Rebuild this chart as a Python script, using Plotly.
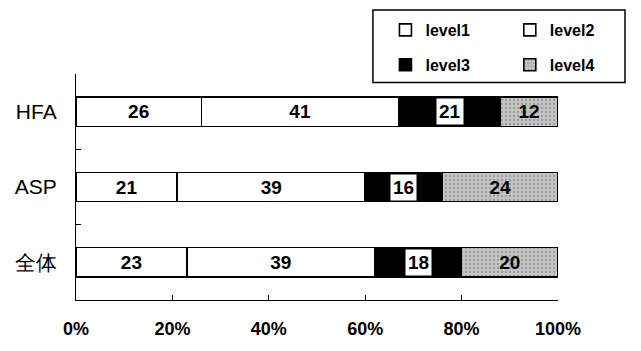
import plotly.graph_objects as go

categories = ["HFA", "ASP", "全体"]
level1 = [26, 21, 23]
level2 = [41, 39, 39]
level3 = [21, 16, 18]
level4 = [12, 24, 20]
series_names = ["level1", "level2", "level3", "level4"]
tick_vals = [0, 20, 40, 60, 80, 100]
tick_text = ["0%", "20%", "40%", "60%", "80%", "100%"]

FONT = "Liberation Sans, Arial, sans-serif"
line = dict(color="black", width=1.6)

fig = go.Figure()
styles = [
    dict(color="white"),
    dict(color="white"),
    dict(color="black"),
    dict(color="#c4c4c4", pattern=dict(shape=".", fgcolor="#6e6e6e", size=4, solidity=0.25)),
]
legend_ids = ["legend", "legend2", "legend", "legend2"]
all_vals = [level1, level2, level3, level4]
for name, vals, st, lg in zip(series_names, all_vals, styles, legend_ids):
    show_text = name != "level3"
    fig.add_trace(go.Bar(
        y=categories, x=vals, name=name, orientation="h",
        marker=dict(line=line, **st),
        legend=lg, legendgroup=name,
        text=[str(v) for v in vals] if show_text else None,
        textposition="inside", insidetextanchor="middle",
        textangle=0, constraintext="none",
        textfont=dict(family=FONT, size=19, color="black", weight="bold"),
    ))

# level3 labels drawn with white box (as in original)
for cat, a, b, c in zip(categories, level1, level2, level3):
    fig.add_annotation(
        x=a + b + c / 2, y=cat, xref="x", yref="y", text=str(c),
        showarrow=False, bgcolor="white",
        font=dict(family=FONT, size=19, color="black", weight="bold"),
        borderpad=2,
    )

# legend frame
fig.add_shape(type="rect", xref="paper", yref="paper",
              x0=0.616, x1=1.139, y0=0.962, y1=1.283,
              line=dict(color="black", width=1.5), fillcolor="white", layer="above")

legend_common = dict(
    orientation="v", xanchor="left", yanchor="top",
    bgcolor="rgba(0,0,0,0)", borderwidth=0,
    font=dict(family=FONT, size=16, color="black", weight="bold"),
    traceorder="grouped", tracegroupgap=11, itemwidth=30,
)

fig.update_layout(
    barmode="stack",
    width=641, height=351,
    margin=dict(l=68, r=91, t=66, b=59, autoexpand=False),
    paper_bgcolor="white", plot_bgcolor="white",
    bargap=0.61,
    font=dict(family=FONT, color="black"),
    legend=dict(x=0.642, y=1.27, **legend_common),
    legend2=dict(x=0.9, y=1.27, **legend_common),
    xaxis=dict(
        range=[0, 100], tickvals=tick_vals, ticktext=tick_text,
        showgrid=False, zeroline=False, showline=True, linecolor="black", linewidth=1.2,
        ticks="inside", ticklen=5, tickcolor="black",
        tickfont=dict(family=FONT, size=18, color="black", weight="bold"),
        ticklabelstandoff=12,
    ),
    yaxis=dict(
        categoryorder="array", categoryarray=categories, autorange="reversed",
        showgrid=False, zeroline=False, showline=True, linecolor="black", linewidth=1.2,
        ticks="inside", tickson="boundaries", ticklen=5, tickcolor="black",
        tickfont=dict(family=FONT, size=21, color="black"),
        ticklabelstandoff=14,
    ),
)

fig.write_html("out.html")
